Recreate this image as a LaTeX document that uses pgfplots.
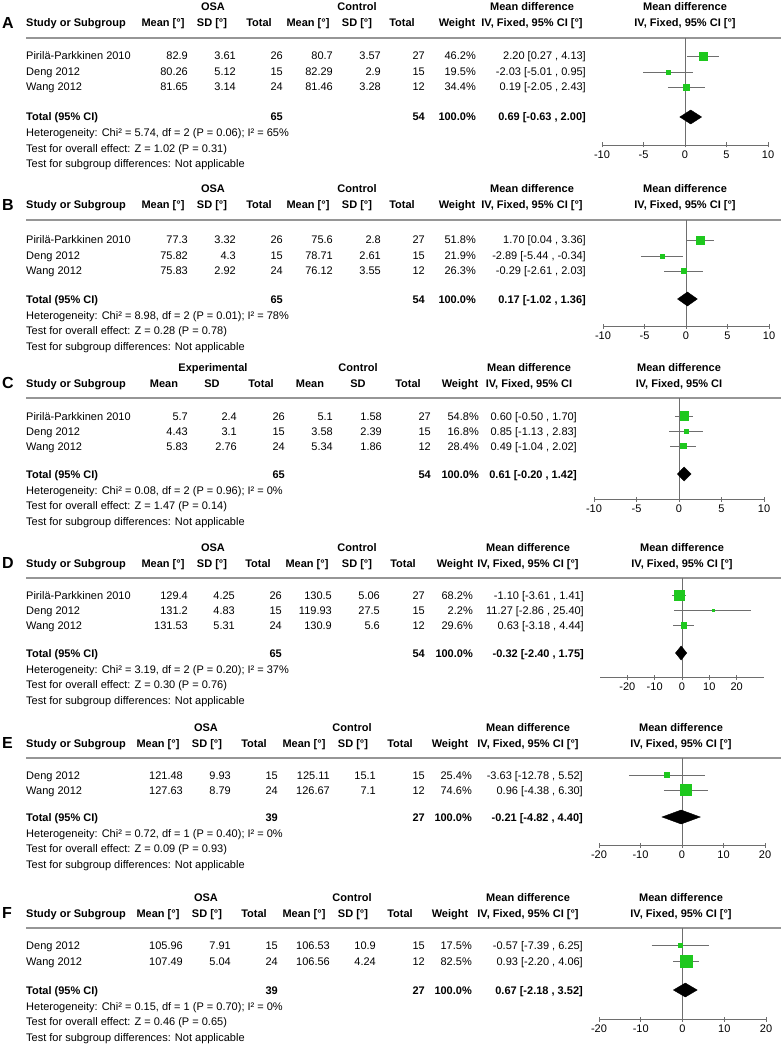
\documentclass[border=0pt]{standalone}
\usepackage{fontspec}
\setmainfont{Liberation Sans}
\usepackage{pgfplots}
\pgfplotsset{compat=1.18}
\definecolor{sqgreen}{RGB}{30,200,30}
\definecolor{ligray}{RGB}{110,110,110}
\definecolor{rulegray}{RGB}{150,150,150}

\tikzset{
  tt/.style={inner sep=0pt, font=\fontsize{11}{13}\selectfont},
  tl/.style={tt, anchor=base west},
  tr/.style={tt, anchor=base east},
  tc/.style={tt, anchor=base},
  tb/.style={font=\fontsize{11}{13}\selectfont\bfseries},
  letter/.style={inner sep=0pt, anchor=base west, font=\fontsize{16}{18}\selectfont\bfseries},
}
\pgfplotsset{
  fp/.style={scale only axis, anchor=south west, axis x line*=bottom, axis y line=none,
    clip=false, tick align=center, major tick length=5pt,
    x axis line style={draw=ligray, line width=0.9pt},
    every tick/.style={draw=ligray, line width=0.9pt},
    xticklabel style={font=\fontsize{11}{13}\selectfont, text=black},
    ytick=\empty},
  ci/.style={ligray, line width=0.8pt, mark=none},
  sq/.style={only marks, mark=square*, mark options={draw=sqgreen, fill=sqgreen}},
  dia/.style={fill=black, draw=black, mark=none},
  zl/.style={ligray, line width=0.9pt, mark=none},
}

\newcommand\headers[4]{%
 \node[letter] at (2,#1+5.5) {#4};
 \node[tc,tb] at (\hGa,#1-16+4) {#2};
 \node[tc,tb] at (\hGb,#1-16+4) {Control};
 \node[tc,tb] at (\hMD,#1-16+4) {Mean difference};
 \node[tc,tb] at (\hRD,#1-16+4) {Mean difference};
 \node[tl,tb] at (26,#1+4) {Study or Subgroup};
 \node[tc,tb] at (\hMa,#1+4) {Mean#3};
 \node[tc,tb] at (\hSa,#1+4) {SD#3};
 \node[tc,tb] at (\hNa,#1+4) {Total};
 \node[tc,tb] at (\hMb,#1+4) {Mean#3};
 \node[tc,tb] at (\hSb,#1+4) {SD#3};
 \node[tc,tb] at (\hNb,#1+4) {Total};
 \node[tc,tb] at (\hW,#1+4) {Weight};
 \node[tc,tb] at (\hMD,#1+4) {IV, Fixed, 95\% CI#3};
 \node[tc,tb] at (\hRD,#1+4) {IV, Fixed, 95\% CI#3};
 \draw[rulegray,line width=1.2pt] (26,#1+15) -- (781,#1+15);
}
\newcommand\srow[9]{%
 \node[tl] at (26,#1+4) {#2};
 \node[tr] at (\xMa,#1+4) {#3};
 \node[tr] at (\xSa,#1+4) {#4};
 \node[tr] at (\xNa,#1+4) {#5};
 \node[tr] at (\xMb,#1+4) {#6};
 \node[tr] at (\xSb,#1+4) {#7};
 \node[tr] at (\xNb,#1+4) {#8};
 \node[tr] at (\xW,#1+4) {#9};
}
\newcommand\cirow[2]{\node[tr] at (\xCI,#1+4) {#2};}
\newcommand\totrow[4]{%
 \node[tl,tb] at (26,#1+4) {Total (95\% CI)};
 \node[tr,tb] at (\xNa,#1+4) {#2};
 \node[tr,tb] at (\xNb,#1+4) {#3};
 \node[tr,tb] at (\xW,#1+4) {100.0\%};
 \node[tr,tb] at (\xCI,#1+4) {#4};
}
\newcommand\foot[3]{%
 \node[tl] at (26,#1+16+4) {Heterogeneity: #2};
 \node[tl] at (26,#1+31.5+4) {Test for overall effect: #3};
 \node[tl] at (26,#1+47+4) {Test for subgroup differences: Not applicable};
}
\newcommand\colsABD{\def\hMa{163}\def\hSa{212}\def\hNa{259}\def\hMb{308}\def\hSb{357}\def\hNb{402}\def\hW{457}\def\hMD{532}\def\hRD{685}\def\hGa{213}\def\hGb{357}%
 \def\xMa{188}\def\xSa{236}\def\xNa{283}\def\xMb{333}\def\xSb{381}\def\xNb{425}\def\xW{476}\def\xCI{586}}

\begin{document}
\begin{tikzpicture}[x=1pt,y=-1pt]
\path[use as bounding box] (0,0) rectangle (781,1056);

% ---------------- Panel A ----------------
\colsABD
\headers{23}{OSA}{ [°]}{A}
\srow{56}{Pirilä-Parkkinen 2010}{82.9}{3.61}{26}{80.7}{3.57}{27}{46.2\%}
\cirow{56}{2.20 [0.27 , 4.13]}
\srow{72}{Deng 2012}{80.26}{5.12}{15}{82.29}{2.9}{15}{19.5\%}
\cirow{72}{-2.03 [-5.01 , 0.95]}
\srow{87}{Wang 2012}{81.65}{3.14}{24}{81.46}{3.28}{12}{34.4\%}
\cirow{87}{0.19 [-2.05 , 2.43]}
\totrow{117}{65}{54}{0.69 [-0.63 , 2.00]}
\foot{117}{Chi² = 5.74, df = 2 (P = 0.06); I² = 65\%}{Z = 1.02 (P = 0.31)}
\begin{axis}[fp, at={(602pt,-145pt)}, width=166pt, height=107pt, xmin=-10, xmax=10, ymin=-145, ymax=-38,
  xtick={-10,-5,0,5,10}, xticklabels={-10,-5,0,5,10}]
\addplot[zl] coordinates {(0,-38) (0,-145)};
\addplot[ci] coordinates {(0.27,-56) (4.13,-56)};
\addplot[ci] coordinates {(-5.01,-72) (0.95,-72)};
\addplot[ci] coordinates {(-2.05,-87) (2.43,-87)};
\addplot[sq, mark size=3.8] coordinates {(2.20,-56)};
\addplot[sq, mark size=2.1] coordinates {(-2.03,-72)};
\addplot[sq, mark size=3.05] coordinates {(0.19,-87)};
\addplot[dia] coordinates {(-0.63,-117) (0.69,-110) (2.00,-117) (0.69,-124)} -- cycle;
\end{axis}

% ---------------- Panel B ----------------
\colsABD
\headers{205}{OSA}{ [°]}{B}
\srow{240}{Pirilä-Parkkinen 2010}{77.3}{3.32}{26}{75.6}{2.8}{27}{51.8\%}
\cirow{240}{1.70 [0.04 , 3.36]}
\srow{256}{Deng 2012}{75.82}{4.3}{15}{78.71}{2.61}{15}{21.9\%}
\cirow{256}{-2.89 [-5.44 , -0.34]}
\srow{271}{Wang 2012}{75.83}{2.92}{24}{76.12}{3.55}{12}{26.3\%}
\cirow{271}{-0.29 [-2.61 , 2.03]}
\totrow{299}{65}{54}{0.17 [-1.02 , 1.36]}
\foot{299}{Chi² = 8.98, df = 2 (P = 0.01); I² = 78\%}{Z = 0.28 (P = 0.78)}
\begin{axis}[fp, at={(603pt,-326pt)}, width=166pt, height=106pt, xmin=-10, xmax=10, ymin=-326, ymax=-220,
  xtick={-10,-5,0,5,10}, xticklabels={-10,-5,0,5,10}]
\addplot[zl] coordinates {(0,-220) (0,-326)};
\addplot[ci] coordinates {(0.04,-240) (3.36,-240)};
\addplot[ci] coordinates {(-5.44,-256) (-0.34,-256)};
\addplot[ci] coordinates {(-2.61,-271) (2.03,-271)};
\addplot[sq, mark size=4.17] coordinates {(1.70,-240)};
\addplot[sq, mark size=2.25] coordinates {(-2.89,-256)};
\addplot[sq, mark size=2.53] coordinates {(-0.29,-271)};
\addplot[dia] coordinates {(-1.02,-299) (0.17,-292) (1.36,-299) (0.17,-306)} -- cycle;
\end{axis}

% ---------------- Panel C ----------------
\def\hMa{164}\def\hSa{212}\def\hNa{261}\def\hMb{310}\def\hSb{358}\def\hNb{408}\def\hW{460}\def\hMD{529}\def\hRD{679}\def\hGa{213}\def\hGb{358}%
\def\xMa{188}\def\xSa{237}\def\xNa{285}\def\xMb{333}\def\xSb{382}\def\xNb{431}\def\xW{479}\def\xCI{577}
\headers{383}{Experimental}{}{C}
\srow{416}{Pirilä-Parkkinen 2010}{5.7}{2.4}{26}{5.1}{1.58}{27}{54.8\%}
\cirow{416}{0.60 [-0.50 , 1.70]}
\srow{431}{Deng 2012}{4.43}{3.1}{15}{3.58}{2.39}{15}{16.8\%}
\cirow{431}{0.85 [-1.13 , 2.83]}
\srow{446}{Wang 2012}{5.83}{2.76}{24}{5.34}{1.86}{12}{28.4\%}
\cirow{446}{0.49 [-1.04 , 2.02]}
\totrow{474}{65}{54}{0.61 [-0.20 , 1.42]}
\foot{474}{Chi² = 0.08, df = 2 (P = 0.96); I² = 0\%}{Z = 1.47 (P = 0.14)}
\begin{axis}[fp, at={(594pt,-499pt)}, width=170pt, height=101pt, xmin=-10, xmax=10, ymin=-499, ymax=-398,
  xtick={-10,-5,0,5,10}, xticklabels={-10,-5,0,5,10}]
\addplot[zl] coordinates {(0,-398) (0,-499)};
\addplot[ci] coordinates {(-0.50,-416) (1.70,-416)};
\addplot[ci] coordinates {(-1.13,-431) (2.83,-431)};
\addplot[ci] coordinates {(-1.04,-446) (2.02,-446)};
\addplot[sq, mark size=4.36] coordinates {(0.60,-416)};
\addplot[sq, mark size=1.92] coordinates {(0.85,-431)};
\addplot[sq, mark size=2.67] coordinates {(0.49,-446)};
\addplot[dia] coordinates {(-0.20,-474) (0.61,-467) (1.42,-474) (0.61,-481)} -- cycle;
\end{axis}

% ---------------- Panel D ----------------
\def\hMa{163}\def\hSa{212}\def\hNa{258}\def\hMb{307}\def\hSb{357}\def\hNb{403}\def\hW{455}\def\hMD{528}\def\hRD{682}\def\hGa{213}\def\hGb{357}%
\def\xMa{188}\def\xSa{235}\def\xNa{282}\def\xMb{332}\def\xSb{380}\def\xNb{425}\def\xW{473}\def\xCI{584}
\headers{563}{OSA}{ [°]}{D}
\srow{595}{Pirilä-Parkkinen 2010}{129.4}{4.25}{26}{130.5}{5.06}{27}{68.2\%}
\cirow{595}{-1.10 [-3.61 , 1.41]}
\srow{610}{Deng 2012}{131.2}{4.83}{15}{119.93}{27.5}{15}{2.2\%}
\cirow{610}{11.27 [-2.86 , 25.40]}
\srow{625}{Wang 2012}{131.53}{5.31}{24}{130.9}{5.6}{12}{29.6\%}
\cirow{625}{0.63 [-3.18 , 4.44]}
\totrow{653}{65}{54}{-0.32 [-2.40 , 1.75]}
\foot{653}{Chi² = 3.19, df = 2 (P = 0.20); I² = 37\%}{Z = 0.30 (P = 0.76)}
\begin{axis}[fp, at={(600pt,-677pt)}, width=164pt, height=99pt, xmin=-30, xmax=30, ymin=-677, ymax=-578,
  xtick={-20,-10,0,10,20}, xticklabels={-20,-10,0,10,20}]
\addplot[zl] coordinates {(0,-578) (0,-677)};
\addplot[ci] coordinates {(-3.61,-595) (1.41,-595)};
\addplot[ci] coordinates {(-2.86,-610) (25.40,-610)};
\addplot[ci] coordinates {(-3.18,-625) (4.44,-625)};
\addplot[sq, mark size=5.2] coordinates {(-1.10,-595)};
\addplot[sq, mark size=0.99] coordinates {(11.27,-610)};
\addplot[sq, mark size=2.74] coordinates {(0.63,-625)};
\addplot[dia] coordinates {(-2.40,-653) (-0.32,-646) (1.75,-653) (-0.32,-660)} -- cycle;
\end{axis}

% ---------------- Panel E ----------------
\def\hMa{158}\def\hSa{207}\def\hNa{254}\def\hMb{304}\def\hSb{353}\def\hNb{400}\def\hW{450}\def\hMD{528}\def\hRD{681}\def\hGa{206}\def\hGb{352}%
\def\xMa{183}\def\xSa{231}\def\xNa{278}\def\xMb{330}\def\xSb{376}\def\xNb{425}\def\xW{472}\def\xCI{583}
\headers{743}{OSA}{ [°]}{E}
\srow{775}{Deng 2012}{121.48}{9.93}{15}{125.11}{15.1}{15}{25.4\%}
\cirow{775}{-3.63 [-12.78 , 5.52]}
\srow{790}{Wang 2012}{127.63}{8.79}{24}{126.67}{7.1}{12}{74.6\%}
\cirow{790}{0.96 [-4.38 , 6.30]}
\totrow{817}{39}{27}{-0.21 [-4.82 , 4.40]}
\foot{817}{Chi² = 0.72, df = 1 (P = 0.40); I² = 0\%}{Z = 0.09 (P = 0.93)}
\begin{axis}[fp, at={(599pt,-845pt)}, width=166pt, height=87pt, xmin=-20, xmax=20, ymin=-845, ymax=-758,
  xtick={-20,-10,0,10,20}, xticklabels={-20,-10,0,10,20}]
\addplot[zl] coordinates {(0,-758) (0,-845)};
\addplot[ci] coordinates {(-12.78,-775) (5.52,-775)};
\addplot[ci] coordinates {(-4.38,-790) (6.30,-790)};
\addplot[sq, mark size=2.48] coordinates {(-3.63,-775)};
\addplot[sq, mark size=5.62] coordinates {(0.96,-790)};
\addplot[dia] coordinates {(-4.82,-817) (-0.21,-810) (4.40,-817) (-0.21,-824)} -- cycle;
\end{axis}

% ---------------- Panel F ----------------
\headers{913}{OSA}{ [°]}{F}
\srow{945}{Deng 2012}{105.96}{7.91}{15}{106.53}{10.9}{15}{17.5\%}
\cirow{945}{-0.57 [-7.39 , 6.25]}
\srow{961}{Wang 2012}{107.49}{5.04}{24}{106.56}{4.24}{12}{82.5\%}
\cirow{961}{0.93 [-2.20 , 4.06]}
\totrow{990}{39}{27}{0.67 [-2.18 , 3.52]}
\foot{990}{Chi² = 0.15, df = 1 (P = 0.70); I² = 0\%}{Z = 0.46 (P = 0.65)}
\begin{axis}[fp, at={(599pt,-1019pt)}, width=167pt, height=91pt, xmin=-20, xmax=20, ymin=-1019, ymax=-928,
  xtick={-20,-10,0,10,20}, xticklabels={-20,-10,0,10,20}]
\addplot[zl] coordinates {(0,-928) (0,-1019)};
\addplot[ci] coordinates {(-7.39,-945) (6.25,-945)};
\addplot[ci] coordinates {(-2.20,-961) (4.06,-961)};
\addplot[sq, mark size=1.97] coordinates {(-0.57,-945)};
\addplot[sq, mark size=6.13] coordinates {(0.93,-961)};
\addplot[dia] coordinates {(-2.18,-990) (0.67,-983) (3.52,-990) (0.67,-997)} -- cycle;
\end{axis}
\end{tikzpicture}
\end{document}
